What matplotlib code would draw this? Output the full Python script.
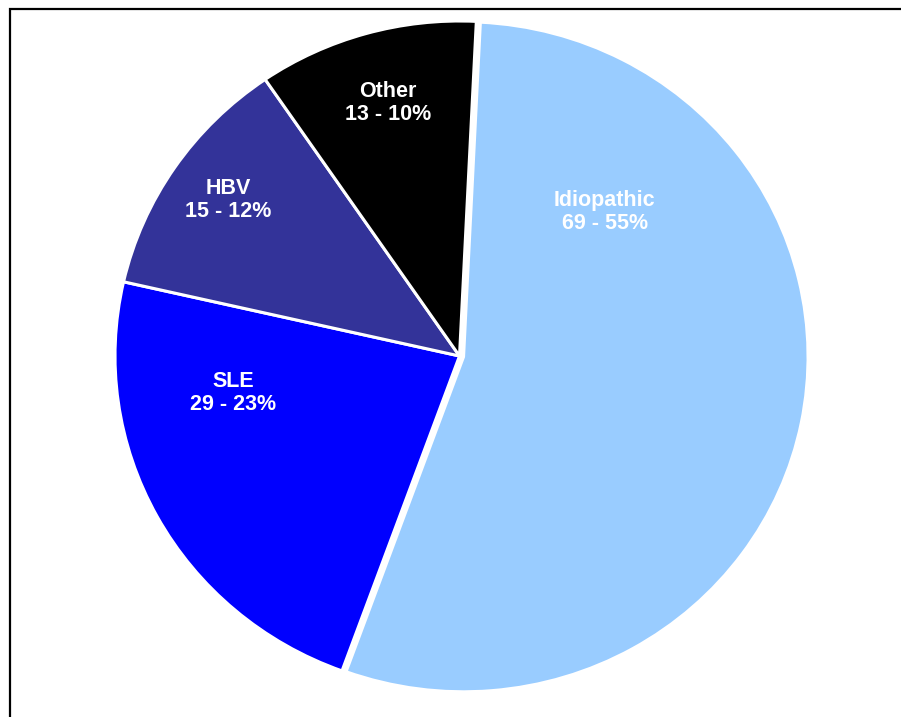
import matplotlib
matplotlib.use("Agg")
import matplotlib.pyplot as plt
import matplotlib.patches as patches

# causes, counts and slice colours
causes = ["Idiopathic", "SLE", "HBV", "Other"]
counts = [69, 29, 15, 13]
colors = ["#99CCFF", "#0000FF", "#333399", "#000000"]
percents = [55, 23, 12, 10]

# label anchor points (axes data units, ellipse spans -1..1)
label_xy = [(0.422, 0.430), (-0.657, -0.110), (-0.672, 0.466), (-0.208, 0.755)]

W, H = 901, 717
fig = plt.figure(figsize=(W / 100, H / 100), dpi=100)
fig.patch.set_facecolor("white")

# pie bounding box in pixels
left, right, top, bottom = 115, 804, 21, 691
ax = fig.add_axes([left / W, 1 - bottom / H, (right - left) / W, (bottom - top) / H])

wedges, _ = ax.pie(counts, colors=colors, startangle=87.2, counterclock=False,
                   explode=[0.012, 0, 0, 0],
                   wedgeprops=dict(edgecolor="white", linewidth=2.2))
for w in wedges:
    w.set_clip_on(False)

ax.set_aspect("auto")
ax.set_xlim(-1, 1)
ax.set_ylim(-1, 1)
ax.axis("off")

for name, n, p, (x, y) in zip(causes, counts, percents, label_xy):
    ax.text(x, y, f"{name}\n{n} - {p}%", ha="center", va="center", color="white",
            fontsize=15.5, fontweight="bold", family="Liberation Sans",
            linespacing=1.12)

# outer frame, only the top and left edges fall inside the image
frame = patches.Rectangle((9.5 / W, -0.05), 1.2, 1 - 8.5 / H + 0.05,
                          transform=fig.transFigure, fill=False,
                          edgecolor="black", linewidth=1.6)
fig.patches.append(frame)

fig.savefig("out.png", dpi=100)
